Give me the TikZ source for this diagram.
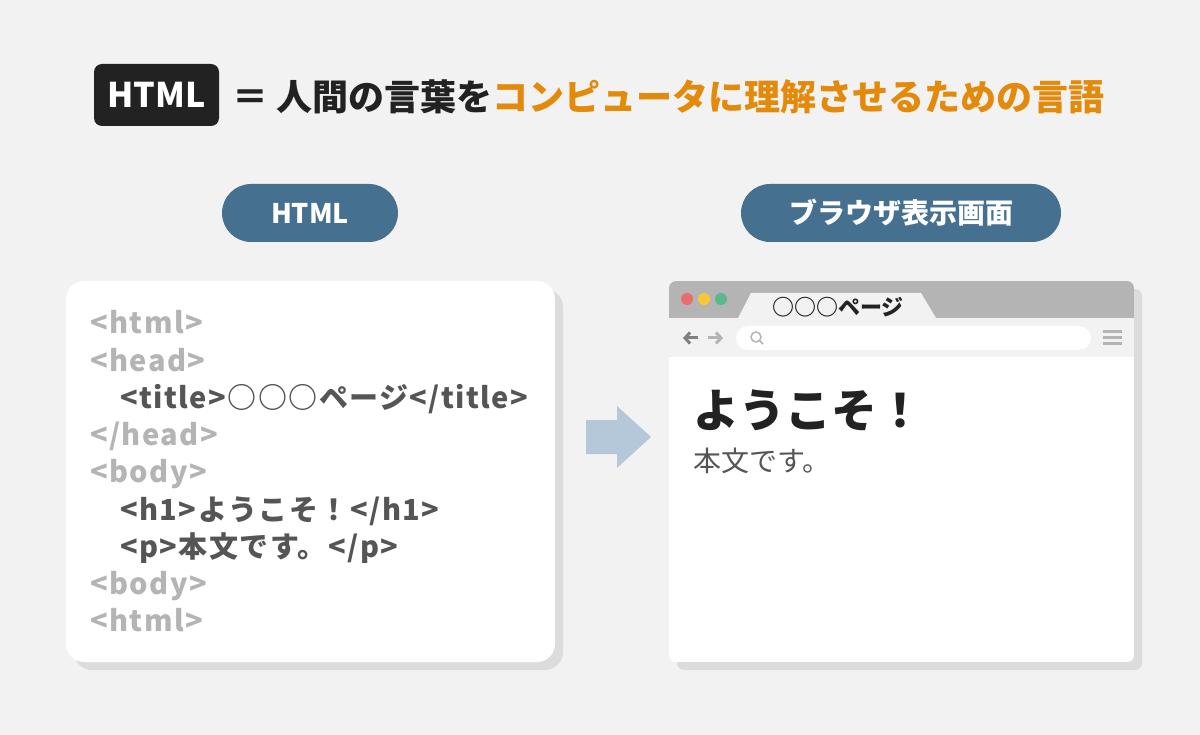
\documentclass[tikz,border=0pt]{standalone}
\usepackage{fontspec}
\setmainfont{Noto Sans CJK JP}
\newfontfamily\codefont{Noto Sans CJK JP}[LetterSpace=5]
\usetikzlibrary{positioning,arrows.meta}

\definecolor{bgcol}{HTML}{F2F2F2}
\definecolor{badgecol}{HTML}{222222}
\definecolor{orangecol}{HTML}{E38A0A}
\definecolor{pillcol}{HTML}{46708F}
\definecolor{shadowcol}{HTML}{DCDCDC}
\definecolor{tagcol}{HTML}{B4B4B4}
\definecolor{elemcol}{HTML}{555555}
\definecolor{arrowcol}{HTML}{B4C8DA}
\definecolor{barcol}{HTML}{B4B4B4}
\definecolor{dotred}{HTML}{E86E6E}
\definecolor{dotyellow}{HTML}{F7C836}
\definecolor{dotgreen}{HTML}{5AB98C}

\newcommand{\fsz}[1]{\bfseries\fontsize{#1}{#1}\selectfont}

\begin{document}
\begin{tikzpicture}[x=1pt,y=-1pt,
    badge/.style = {fill=badgecol,text=white,rounded corners=8pt,minimum width=125pt,minimum height=62pt,inner sep=0,font=\fsz{34}},
    pill/.style = {fill=pillcol,text=white,rounded corners=29pt,minimum height=58pt,inner sep=0},
    code/.style = {anchor=base west,inner sep=0,font=\codefont\fsz{29}},
    tag/.style = {code,text=tagcol},
    elem/.style = {code,text=elemcol},
    nav/.style = {line width=3pt,-{Straight Barb[length=5pt,width=11pt]}}]

    \fill[bgcol] (0,0) rectangle (1200,735);
    \useasboundingbox (0,0) rectangle (1200,735);

    % title
    \node[badge] (badge) at (156.5,95) {HTML};
    \node[anchor=base west,inner sep=0,text=badgecol,font=\fsz{36}] (title) at (232,110.5)
        {＝ 人間の言葉を\textcolor{orangecol}{コンピュータに理解させるための言語}};

    \node[pill,minimum width=176pt,font=\fsz{27}] (pillhtml) at (310,213) {HTML};
    \node[pill,minimum width=320pt,font=\fsz{28}] (pillbrowser) at (901,213) {ブラウザ表示画面};

    % source panel
    \fill[shadowcol,rounded corners=18pt] (74,289) rectangle (563,670);
    \fill[white,rounded corners=18pt] (66,281) rectangle (555,662);

    \node[tag]  (l1) at (90,334)  {<html>};
    \node[tag]  (l2) at (90,371)  {<head>};
    \node[elem] (l3) at (120,408) {<title>○○○ページ</title>};
    \node[tag]  (l4) at (90,445)  {</head>};
    \node[tag]  (l5) at (90,482)  {<body>};
    \node[elem] (l6) at (120,520) {<h1>ようこそ！</h1>};
    \node[elem] (l7) at (120,557) {<p>本文です。</p>};
    \node[tag]  (l8) at (90,594)  {<body>};
    \node[tag]  (l9) at (90,631)  {<html>};

    % arrow
    \fill[arrowcol] (586,420) -- (617,420) -- (617,406) -- (651,437) -- (617,468) -- (617,454) -- (586,454) -- cycle;

    % browser window
    \fill[shadowcol,rounded corners=7pt] (677,289) rectangle (1142,670);
    \begin{scope}
        \clip[rounded corners=7pt] (669,281) rectangle (1134,662);
        \fill[white] (669,281) rectangle (1134,662);
        \fill[barcol] (669,281) rectangle (1134,318);
        \fill[bgcol] (669,318) rectangle (1134,357);
    \end{scope}
    \fill[bgcol] (738,318) -- (751,293) -- (921,293) -- (936,318) -- cycle;
    \node[inner sep=0,text=badgecol,font=\fsz{22}] (tab) at (838,307) {○○○ページ};

    \fill[dotred] (687,299) circle (6pt);
    \fill[dotyellow] (704,299) circle (6pt);
    \fill[dotgreen] (721,299) circle (6pt);

    \draw[nav,gray] (698,338) -- (683,338);
    \draw[nav,barcol] (708,338) -- (723,338);
    \fill[white,rounded corners=12pt] (736,326) rectangle (1091,350);
    \draw[barcol,line width=1.5pt] (756,337) circle (5pt) (759.5,340.5) -- (763,344);
    \draw[barcol,line width=3pt] (1103,332) -- (1122,332) (1103,338) -- (1122,338) (1103,344) -- (1122,344);

    \node[anchor=base west,inner sep=0,text=badgecol,font=\fsz{46}] (h1) at (693,427) {ようこそ！};
    \node[anchor=base west,inner sep=0,text=elemcol,font=\mdseries\fontsize{28}{28}\selectfont] (para) at (693,471) {本文です。};
\end{tikzpicture}
\end{document}
